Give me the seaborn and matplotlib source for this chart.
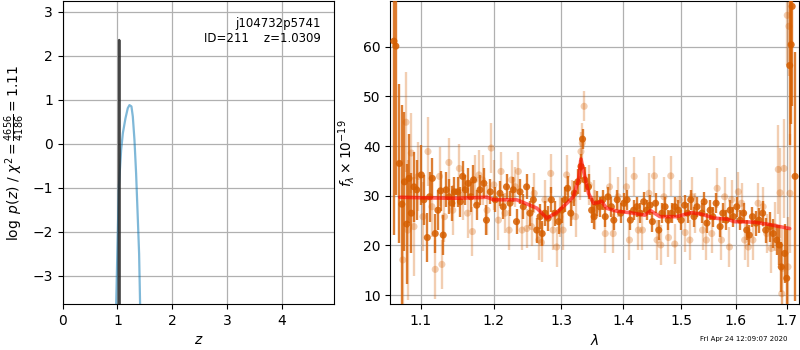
import numpy as np
import pandas as pd
import matplotlib
matplotlib.use('Agg')
import matplotlib.pyplot as plt
from matplotlib.ticker import FixedLocator, FixedFormatter, NullLocator
import seaborn as sns

# ---------------- data ----------------
# left panel: log p(z)
pz_z = [0.955, 0.976, 1.025, 1.067, 1.098, 1.146, 1.188, 1.219, 1.255, 1.280,
        1.310, 1.340, 1.370, 1.395, 1.413, 1.425]
pz_logp = [-4.2, -3.65, -0.98, -0.14, 0.24, 0.58, 0.81, 0.88, 0.85, 0.62,
           0.09, -0.67, -1.66, -2.50, -3.65, -4.2]
zbest_z = [1.024, 1.031, 1.038]
zbest_logp = [-4.5, 2.36, -4.5]
z_ticks = [0, 1, 2, 3, 4]
logp_ticks = [-3, -2, -1, 0, 1, 2, 3]

# right panel: spectrum (high S/N points)
dark_wave = [1.0656, 1.0680, 1.0725, 1.0757, 1.0790, 1.0820, 1.0848, 1.0878, 1.0913, 1.0948,
             1.1008, 1.1043, 1.1087, 1.1118, 1.1153, 1.1192, 1.1228, 1.1264, 1.1299, 1.1339,
             1.1375, 1.1415, 1.1451, 1.1496, 1.1532, 1.1563, 1.1600, 1.1640, 1.1676, 1.1713,
             1.1758, 1.1804, 1.1859, 1.1895, 1.1950, 1.2020, 1.2088, 1.2134, 1.2182, 1.2233,
             1.2280, 1.2328, 1.2379, 1.2428, 1.2477, 1.2527, 1.2577, 1.2628, 1.2677, 1.2710,
             1.2750, 1.2800, 1.2850, 1.2905, 1.2960, 1.3010, 1.3060, 1.3100, 1.3150, 1.3205,
             1.3260, 1.3310, 1.3335, 1.3370, 1.3430, 1.3480, 1.3520, 1.3570, 1.3610, 1.3660,
             1.3700, 1.3745, 1.3800, 1.3840, 1.3896, 1.3955, 1.4005, 1.4060, 1.4115, 1.4170,
             1.4225, 1.4280, 1.4340, 1.4390, 1.4450, 1.4490, 1.4545, 1.4600, 1.4655, 1.4710,
             1.4765, 1.4825, 1.4880, 1.4945, 1.4995, 1.5055, 1.5110, 1.5165, 1.5225, 1.5280,
             1.5370, 1.5410, 1.5460, 1.5520, 1.5570, 1.5630, 1.5705, 1.5755, 1.5820, 1.5893,
             1.5955, 1.6020, 1.6083, 1.6150, 1.6210, 1.6260, 1.6320, 1.6390, 1.6450, 1.6520,
             1.6580, 1.6668, 1.6730, 1.6800, 1.6850, 1.6890, 1.6960, 1.7000, 1.7060, 1.7090,
             1.7110, 1.7170]
dark_flux = [61.1, 60.1, 36.5, 28.3, 32.8, 24.3, 33.5, 26.5, 31.8, 31.2,
             34.2, 29.2, 21.6, 29.8, 33.5, 22.4, 27.1, 31.0, 22.1, 31.2,
             29.8, 28.5, 30.8, 30.8, 28.8, 33.9, 31.2, 32.5, 29.8, 33.2,
             28.1, 31.2, 32.5, 25.1, 30.8, 29.2, 30.5, 27.8, 31.8, 28.5,
             31.2, 24.8, 30.8, 27.8, 31.8, 26.5, 29.2, 23.1, 25.8, 22.4,
             26.5, 25.5, 29.2, 26.5, 24.8, 27.1, 29.2, 31.5, 26.5, 30.5,
             32.8, 35.9, 41.4, 33.2, 31.8, 27.1, 25.8, 28.5, 27.8, 29.2,
             25.8, 29.8, 27.8, 25.1, 29.2, 26.5, 28.5, 29.2, 25.1, 27.1,
             27.8, 26.5, 28.8, 27.1, 28.1, 24.8, 28.5, 23.1, 26.5, 27.8,
             25.1, 26.5, 27.8, 27.1, 25.1, 28.1, 26.5, 29.2, 25.8, 27.8,
             26.5, 28.8, 24.5, 27.1, 25.8, 28.5, 23.8, 26.5, 25.1, 27.1,
             25.8, 27.8, 25.1, 26.5, 23.1, 22.1, 25.8, 24.5, 25.1, 26.5,
             23.1, 23.8, 22.4, 21.1, 20.1, 15.7, 18.4, 13.4, 56.2, 60.4,
             68.1, 33.9]
dark_err = [39, 30, 16, 20, 14, 12, 9, 8, 7, 6,
            6, 5, 5, 5, 4, 4, 4, 4, 4, 3.5,
            3.5, 3.5, 3, 3, 3, 3, 3, 3, 3, 3,
            3, 3, 3, 3, 2.5, 2.5, 2.5, 2.5, 2.5, 2.5,
            2.5, 2.5, 2.5, 2.5, 2.5, 2.5, 2.5, 2.5, 2.5, 2.5,
            2.5, 2.5, 2.5, 2.5, 2.5, 2.5, 2.5, 2.5, 2.5, 2.5,
            2.5, 2.5, 2, 2.5, 2.5, 2.5, 2.5, 2.5, 2, 2,
            2, 2, 2, 2, 2, 2, 2, 2, 2, 2,
            2, 2, 2, 2, 2, 2, 2, 2, 2, 2,
            2, 2, 2, 2, 2, 2, 2, 2, 2, 2,
            2, 2, 2, 2, 2, 2, 2, 2, 2, 2,
            2, 2, 2, 2, 2, 2, 2, 2.5, 2.5, 2.5,
            2.5, 3, 3, 3, 4, 5, 6, 10, 16, 16,
            20, 25]

# right panel: spectrum (low S/N points)
light_wave = [1.0769, 1.0810, 1.0834, 1.0878, 1.0913, 1.0965, 1.1030, 1.1096, 1.1149, 1.1192,
              1.1250, 1.1281, 1.1316, 1.1375, 1.1428, 1.1518, 1.1563, 1.1630, 1.1698, 1.1730,
              1.1790, 1.1840, 1.1904, 1.1963, 1.2000, 1.2065, 1.2103, 1.2160, 1.2220, 1.2257,
              1.2310, 1.2355, 1.2410, 1.2480, 1.2550, 1.2590, 1.2660, 1.2700, 1.2750, 1.2840,
              1.2875, 1.2930, 1.2980, 1.3030, 1.3085, 1.3170, 1.3225, 1.3295, 1.3310, 1.3330,
              1.3360, 1.3440, 1.3510, 1.3540, 1.3700, 1.3770, 1.3830, 1.3910, 1.4050, 1.4100,
              1.4180, 1.4250, 1.4320, 1.4430, 1.4525, 1.4570, 1.4635, 1.4690, 1.4770, 1.4810,
              1.4880, 1.4965, 1.5065, 1.5150, 1.5190, 1.5250, 1.5380, 1.5450, 1.5550, 1.5650,
              1.5730, 1.5790, 1.5880, 1.5920, 1.6050, 1.6110, 1.6170, 1.6240, 1.6330, 1.6430,
              1.6530, 1.6600, 1.6690, 1.6760, 1.6830, 1.6865, 1.6900, 1.6910, 1.6945, 1.7010,
              1.7025, 1.7045, 1.7065]
light_flux = [17.1, 44.8, 23.1, 38.6, 23.8, 33.9, 25.8, 38.9, 27.8, 15.2,
              33.9, 16.2, 25.8, 36.7, 27.1, 35.5, 30.1, 26.5, 22.8, 33.2,
              34.2, 33.2, 27.1, 39.6, 32.2, 25.1, 34.9, 26.5, 23.1, 33.2,
              31.8, 34.9, 23.1, 23.4, 23.8, 30.5, 21.1, 20.6, 29.2, 34.5,
              23.1, 19.7, 25.8, 23.1, 34.2, 29.2, 25.8, 33.2, 38.9, 40.6,
              48.0, 32.2, 29.2, 27.1, 22.4, 31.8, 22.4, 29.8, 31.8, 21.1,
              33.9, 23.1, 23.1, 30.5, 34.0, 21.1, 20.1, 29.8, 21.6, 34.0,
              20.3, 29.2, 22.6, 21.1, 29.8, 26.5, 23.1, 21.1, 22.4, 31.5,
              21.1, 29.8, 19.7, 29.2, 30.8, 28.5, 21.1, 19.7, 21.1, 28.5,
              27.8, 22.4, 19.4, 23.8, 35.3, 30.6, 10.3, 15.4, 35.5, 66.3,
              15.7, 64.1, 30.5]
light_err = [12, 10, 14, 8, 10, 7, 7, 7, 6, 6,
             6, 5, 5, 5, 5, 5, 5, 5, 5, 5,
             5, 5, 5, 5, 5, 4, 4, 4, 4, 4,
             4, 4, 4, 4, 4, 4, 4, 4, 4, 4,
             4, 4, 4, 4, 4, 4, 4, 4, 4, 4,
             3, 4, 4, 4, 4, 4, 4, 4, 4, 4,
             4, 4, 4, 4, 4, 4, 4, 4, 4, 4,
             4, 4, 4, 4, 4, 4, 4, 4, 4, 4,
             4, 4, 4, 4, 4, 4, 4, 4, 4, 4,
             4, 4, 5, 5, 9, 9, 10, 8, 10, 10,
             10, 10, 12]

# best-fit model
model_wave = [1.073, 1.100, 1.150, 1.190, 1.200, 1.233, 1.2527, 1.263, 1.278, 1.293,
              1.309, 1.319, 1.327, 1.331, 1.336, 1.343, 1.351, 1.358, 1.364, 1.372,
              1.389, 1.411, 1.436, 1.446, 1.462, 1.491, 1.518, 1.536, 1.560, 1.584,
              1.597, 1.634, 1.661, 1.681, 1.706]
model_flux = [29.7, 29.6, 29.5, 29.7, 29.2, 29.2, 28.1, 27.5, 25.5, 26.6,
              28.5, 29.8, 33.2, 37.4, 34.5, 30.5, 28.5, 28.6, 28.9, 27.5,
              26.9, 26.6, 26.1, 27.0, 25.8, 25.8, 26.6, 26.3, 25.5, 25.3,
              24.8, 24.7, 24.3, 23.9, 23.4]

wave_ticks = [1.1, 1.2, 1.3, 1.4, 1.5, 1.6, 1.7]
wave_ticklabels = ['1.1', '1.2', '1.3', '1.4', '1.5', '1.6', '1.7']
flux_ticks = [10, 20, 30, 40, 50, 60]

# ---------------- style ----------------
sns.set_style('ticks', rc={'axes.edgecolor': 'black', 'axes.linewidth': 1.0,
                           'xtick.color': 'black', 'ytick.color': 'black',
                           'axes.labelcolor': 'black', 'text.color': 'black'})
plt.rcParams['font.family'] = ['DejaVu Sans']
plt.rcParams['font.size'] = 10

g141 = (0.8352941176470589, 0.3686274509803922, 0.0)
blue = (0.0, 0.4470588235294118, 0.6980392156862745)

fig = plt.figure(figsize=(8, 3.5), dpi=100)
ax1 = fig.add_axes([0.0784, 0.131, 0.3395, 0.865])
ax2 = fig.add_axes([0.4879, 0.131, 0.5113, 0.865])

# ---------- left panel ----------
pz_df = pd.DataFrame({'z': pz_z, 'logp': pz_logp})
sns.lineplot(data=pz_df, x='z', y='logp', ax=ax1, sort=False, estimator=None,
             color=blue, alpha=0.5, lw=1.6)
zb_df = pd.DataFrame({'z': zbest_z, 'logp': zbest_logp})
sns.lineplot(data=zb_df, x='z', y='logp', ax=ax1, sort=False, estimator=None,
             color='0.15', alpha=0.85, lw=1.8)
ax1.set_xlim(0, 4.96)
ax1.set_ylim(-3.65, 3.24)
ax1.set_xticks(z_ticks)
ax1.set_yticks(logp_ticks)
ax1.grid(True, color='#b0b0b0', lw=0.9)
ax1.set_axisbelow(True)
ax1.set_xlabel(r'$z$')
ax1.set_ylabel(r'$\log\ p(z)$ / $\chi^2=\frac{4656}{4186}=1.11$')
ax1.text(0.95, 0.95, 'j104732p5741\nID=211    z=1.0309', ha='right', va='top',
         transform=ax1.transAxes, fontsize=8.5)

# ---------- right panel ----------
ax2.set_xscale('log')
ax2.errorbar(light_wave, light_flux, yerr=light_err, fmt='none', ecolor=g141,
             alpha=0.3, elinewidth=1.7, zorder=2)
sns.scatterplot(x=light_wave, y=light_flux, ax=ax2, color=g141, alpha=0.3, s=26,
                edgecolor='none', zorder=2)
ax2.errorbar(dark_wave, dark_flux, yerr=dark_err, fmt='none', ecolor=g141,
             alpha=0.8, elinewidth=1.7, zorder=3)
sns.scatterplot(x=dark_wave, y=dark_flux, ax=ax2, color=g141, alpha=0.85, s=26,
                edgecolor='none', zorder=3)
mdf = pd.DataFrame({'wave': model_wave, 'flux': model_flux})
sns.lineplot(data=mdf, x='wave', y='flux', ax=ax2, sort=False, estimator=None,
             color='red', alpha=0.6, lw=2.6, zorder=5)

ax2.set_xlim(1.061, 1.7257)
ax2.set_ylim(8.2, 69.1)
ax2.xaxis.set_major_locator(FixedLocator(wave_ticks))
ax2.xaxis.set_major_formatter(FixedFormatter(wave_ticklabels))
ax2.xaxis.set_minor_locator(NullLocator())
ax2.set_yticks(flux_ticks)
ax2.grid(True, color='#b0b0b0', lw=0.9)
ax2.set_axisbelow(True)
ax2.set_xlabel(r'$\lambda$')
ax2.set_ylabel(r'$f_\lambda\times10^{-19}$')

fig.text(0.985, 0.031, 'Fri Apr 24 12:09:07 2020', ha='right', va='center', fontsize=5)

fig.savefig('out.png', dpi=100)
